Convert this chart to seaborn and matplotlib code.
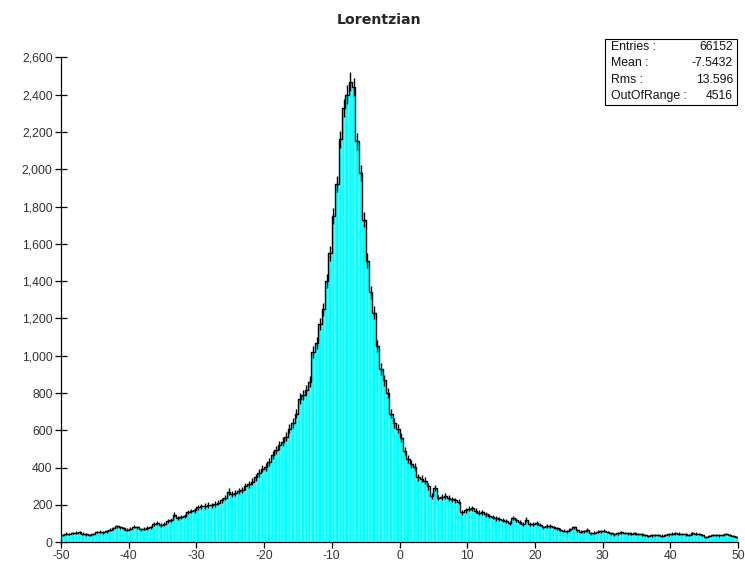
import numpy as np
import pandas as pd
import matplotlib
matplotlib.use("Agg")
import matplotlib.pyplot as plt
import seaborn as sns
from matplotlib.ticker import FuncFormatter, MultipleLocator
from matplotlib.patches import Rectangle

# ---------------- data ----------------
title = "Lorentzian"
x_min, x_max, n_bins = -50, 50, 200

counts = [
    # -50 .. -30
    40, 46, 44, 50, 52, 54, 47, 43, 40, 45,
    55, 57, 54, 58, 68, 75, 86, 80, 74, 68,
    72, 84, 80, 70, 72, 76, 80, 100, 105, 92,
    98, 115, 118, 148, 130, 135, 140, 162, 168, 172,
    # -30 .. -10
    188, 192, 195, 200, 198, 205, 212, 225, 240, 272,
    258, 262, 275, 282, 300, 310, 325, 350, 372, 395,
    405, 430, 470, 495, 520, 540, 565, 610, 640, 690,
    770, 790, 815, 860, 1020, 1070, 1170, 1250, 1400, 1550,
    # -10 .. 10
    1750, 1920, 2160, 2330, 2400, 2470, 2440, 2150, 1980, 1730,
    1510, 1340, 1230, 1050, 930, 870, 800, 690, 640, 610,
    560, 490, 445, 420, 405, 350, 340, 330, 300, 250,
    290, 240, 245, 250, 236, 230, 225, 218, 160, 172,
    # 10 .. 30
    180, 182, 170, 158, 160, 150, 140, 135, 128, 125,
    120, 115, 102, 130, 118, 108, 100, 122, 100, 98,
    102, 95, 80, 88, 87, 80, 75, 68, 62, 60,
    69, 80, 65, 57, 60, 66, 48, 52, 57, 60,
    # 30 .. 50
    62, 55, 48, 43, 48, 53, 50, 48, 46, 48,
    45, 43, 40, 34, 37, 39, 38, 36, 40, 43,
    46, 48, 46, 45, 42, 39, 48, 46, 45, 38,
    30, 35, 39, 38, 37, 40, 45, 40, 34, 27,
]

stats_labels = ["Entries :", "Mean :", "Rms :", "OutOfRange :"]
stats_values = ["66152", "-7.5432", "13.596", "4516"]

# ---------------- build ----------------
bin_w = (x_max - x_min) / n_bins
centers = x_min + bin_w * (np.arange(n_bins) + 0.5)
df = pd.DataFrame({"x": centers, "count": counts})

sns.set_theme(style="white")
plt.rcParams["font.family"] = ["Liberation Sans", "DejaVu Sans"]
plt.rcParams["axes.unicode_minus"] = False

W, H = 745, 569
fig = plt.figure(figsize=(W / 100, H / 100), dpi=100)
ax_left, ax_right, ax_top, ax_bottom = 61, 738, 57.3, 542.3
ax = fig.add_axes([ax_left / W, 1 - ax_bottom / H,
                   (ax_right - ax_left) / W, (ax_bottom - ax_top) / H])

sns.histplot(data=df, x="x", weights="count", binwidth=bin_w,
             binrange=(x_min, x_max),
             color="#00ffff", edgecolor="#a8ffff", linewidth=0.35,
             alpha=1, ax=ax)
sns.histplot(data=df, x="x", weights="count", binwidth=bin_w,
             binrange=(x_min, x_max),
             element="step", fill=False, color="black", linewidth=1.0,
             ax=ax)
err = np.sqrt(df["count"].to_numpy())
ax.vlines(df["x"], df["count"] - err, df["count"] + err,
          color="black", linewidth=1.0, zorder=3)

ax.set_xlim(x_min, x_max)
ax.set_ylim(0, 2600)
ax.set_xlabel("")
ax.set_ylabel("")
ax.xaxis.set_major_locator(MultipleLocator(10))
ax.yaxis.set_major_locator(MultipleLocator(200))
ax.yaxis.set_major_formatter(FuncFormatter(lambda v, p: f"{int(v):,}"))

for s in ["top", "right"]:
    ax.spines[s].set_visible(False)
for s in ["left", "bottom"]:
    ax.spines[s].set_color("black")
    ax.spines[s].set_linewidth(0.9)

ax.tick_params(axis="y", direction="inout", length=9, width=0.9,
               colors="black", labelcolor="#333333", labelsize=8.7, pad=1.5,
               left=True)
ax.tick_params(axis="x", direction="out", length=4.5, width=0.9,
               colors="black", labelcolor="#333333", labelsize=8.7, pad=1,
               bottom=True)

fig.text(379 / W, 1 - 20 / H, title, ha="center", va="center",
         fontsize=10.2, fontweight="bold", family=["DejaVu Sans"])

# stats box
bx0, bx1, by0, by1 = 605, 737, 39, 105
fig.patches.append(Rectangle((bx0 / W, 1 - by1 / H), (bx1 - bx0) / W,
                             (by1 - by0) / H, transform=fig.transFigure,
                             facecolor="white", edgecolor="black",
                             linewidth=0.8, zorder=5))
rows_y = [47, 63.5, 80, 96]
for i, (lab, val) in enumerate(zip(stats_labels, stats_values)):
    y = 1 - rows_y[i] / H
    fig.text(611 / W, y, lab, ha="left", va="center", fontsize=8.8,
             color="#111111", zorder=6)
    fig.text(733 / W, y, val, ha="right", va="center", fontsize=8.8,
             color="#111111", zorder=6)

fig.savefig("out.png", dpi=100)
